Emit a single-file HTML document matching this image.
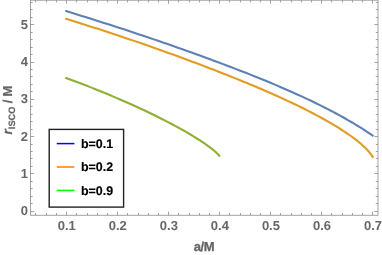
<!DOCTYPE html>
<html><head><meta charset="utf-8"><style>
html,body{margin:0;padding:0;background:#fff;}
svg{display:block;will-change:transform;text-rendering:geometricPrecision;font-family:"Liberation Sans",sans-serif;}
</style></head><body>
<svg width="382" height="255" viewBox="0 0 382 255">
<rect width="382" height="255" fill="#fff"/>
<g fill="none" stroke-width="2.1" stroke-linecap="butt" stroke-linejoin="round">
<polyline stroke="#5e81b5" points="65.30,10.86 70.82,12.55 76.31,14.24 81.75,15.93 87.16,17.62 92.53,19.30 97.87,20.98 103.16,22.66 108.42,24.34 113.63,26.02 118.81,27.70 123.95,29.37 129.05,31.04 134.11,32.71 139.13,34.38 144.11,36.05 149.05,37.72 153.95,39.38 158.80,41.05 163.62,42.70 168.40,44.36 173.13,46.01 177.83,47.66 182.48,49.31 187.09,50.95 191.66,52.59 196.18,54.22 200.66,55.84 205.10,57.46 209.50,59.07 213.85,60.68 218.16,62.28 222.42,63.88 226.64,65.46 230.81,67.05 234.94,68.62 239.02,70.20 243.06,71.76 247.05,73.32 250.99,74.88 254.89,76.43 258.74,77.98 262.54,79.52 266.29,81.06 270.00,82.59 273.65,84.12 277.26,85.64 280.82,87.16 284.32,88.67 287.78,90.18 291.18,91.68 294.53,93.18 297.83,94.67 301.07,96.15 304.27,97.63 307.40,99.10 310.49,100.56 313.51,102.02 316.49,103.46 319.40,104.90 322.26,106.32 325.05,107.73 327.79,109.13 330.47,110.52 333.09,111.90 335.64,113.26 338.14,114.60 340.56,115.93 342.93,117.24 345.22,118.53 347.45,119.79 349.61,121.04 351.70,122.26 353.71,123.46 355.65,124.62 357.52,125.76 359.31,126.86 361.01,127.92 362.63,128.95 364.17,129.94 365.62,130.87 366.97,131.76 368.23,132.59 369.38,133.37 370.42,134.07 371.35,134.70 372.14,135.25 372.79,135.70 373.27,136.03 373.50,136.19"/>
<polyline stroke="#e19c24" points="65.30,18.57 70.82,20.29 76.30,22.00 81.74,23.72 87.15,25.44 92.52,27.15 97.84,28.87 103.14,30.58 108.39,32.30 113.60,34.02 118.78,35.73 123.91,37.45 129.01,39.17 134.06,40.88 139.08,42.60 144.06,44.32 148.99,46.03 153.89,47.75 158.74,49.46 163.56,51.17 168.33,52.89 173.06,54.59 177.76,56.30 182.40,58.01 187.01,59.71 191.58,61.40 196.10,63.10 200.58,64.78 205.01,66.47 209.40,68.15 213.75,69.82 218.06,71.49 222.32,73.16 226.53,74.82 230.70,76.48 234.83,78.13 238.91,79.77 242.94,81.42 246.93,83.06 250.87,84.69 254.77,86.32 258.61,87.95 262.41,89.58 266.16,91.20 269.87,92.82 273.52,94.43 277.12,96.04 280.68,97.65 284.18,99.25 287.63,100.86 291.03,102.46 294.38,104.05 297.68,105.64 300.92,107.23 304.11,108.81 307.25,110.39 310.33,111.97 313.35,113.54 316.32,115.11 319.23,116.67 322.09,118.23 324.89,119.78 327.62,121.33 330.30,122.88 332.91,124.41 335.47,125.95 337.96,127.47 340.38,128.99 342.75,130.51 345.04,132.01 347.27,133.52 349.42,135.01 351.51,136.49 353.52,137.97 355.47,139.44 357.33,140.90 359.11,142.35 360.82,143.79 362.44,145.22 363.98,146.63 365.42,148.02 366.78,149.39 368.03,150.74 369.18,152.06 370.22,153.33 371.15,154.54 371.94,155.66 372.59,156.65 373.07,157.43 373.30,157.84"/>
<polyline stroke="#8fb032" points="65.30,77.68 68.07,78.70 70.82,79.72 73.55,80.75 76.27,81.77 78.96,82.79 81.64,83.81 84.29,84.83 86.93,85.85 89.54,86.87 92.14,87.89 94.72,88.91 97.28,89.93 99.82,90.94 102.33,91.98 104.83,93.01 107.31,94.04 109.77,95.07 112.20,96.10 114.62,97.13 117.02,98.15 119.39,99.18 121.75,100.20 124.08,101.22 126.39,102.24 128.68,103.26 130.95,104.27 133.20,105.29 135.43,106.30 137.63,107.31 139.82,108.31 141.98,109.32 144.11,110.32 146.23,111.32 148.32,112.31 150.40,113.31 152.44,114.30 154.47,115.28 156.47,116.27 158.45,117.25 160.40,118.22 162.33,119.19 164.24,120.16 166.12,121.13 167.98,122.09 169.81,123.05 171.62,124.00 173.41,124.95 175.17,125.89 176.90,126.83 178.61,127.76 180.29,128.69 181.94,129.61 183.57,130.53 185.17,131.44 186.74,132.34 188.29,133.24 189.81,134.14 191.30,135.02 192.76,135.90 194.19,136.78 195.60,137.64 196.97,138.50 198.32,139.35 199.63,140.20 200.91,141.03 202.16,141.86 203.38,142.67 204.56,143.48 205.71,144.28 206.83,145.07 207.92,145.85 208.96,146.62 209.97,147.38 210.95,148.12 211.88,148.85 212.78,149.57 213.64,150.28 214.45,150.97 215.22,151.64 215.95,152.29 216.63,152.93 217.26,153.54 217.83,154.13 218.36,154.68 218.82,155.20 219.22,155.66 219.54,156.06 219.78,156.37 219.90,156.53"/>
</g>
<g stroke="#8c8c8c" stroke-width="0.8" fill="none">
<rect x="30.5" y="0.2" width="347.5" height="215.05"/>
<line x1="35.50" y1="215.25" x2="35.50" y2="213.05"/><line x1="35.50" y1="0.2" x2="35.50" y2="2.40"/><line x1="46.50" y1="215.25" x2="46.50" y2="213.05"/><line x1="46.50" y1="0.2" x2="46.50" y2="2.40"/><line x1="56.50" y1="215.25" x2="56.50" y2="213.05"/><line x1="56.50" y1="0.2" x2="56.50" y2="2.40"/><line x1="66.50" y1="215.25" x2="66.50" y2="211.65"/><line x1="66.50" y1="0.2" x2="66.50" y2="3.80"/><line x1="76.50" y1="215.25" x2="76.50" y2="213.05"/><line x1="76.50" y1="0.2" x2="76.50" y2="2.40"/><line x1="87.50" y1="215.25" x2="87.50" y2="213.05"/><line x1="87.50" y1="0.2" x2="87.50" y2="2.40"/><line x1="97.50" y1="215.25" x2="97.50" y2="213.05"/><line x1="97.50" y1="0.2" x2="97.50" y2="2.40"/><line x1="107.50" y1="215.25" x2="107.50" y2="213.05"/><line x1="107.50" y1="0.2" x2="107.50" y2="2.40"/><line x1="117.50" y1="215.25" x2="117.50" y2="211.65"/><line x1="117.50" y1="0.2" x2="117.50" y2="3.80"/><line x1="127.50" y1="215.25" x2="127.50" y2="213.05"/><line x1="127.50" y1="0.2" x2="127.50" y2="2.40"/><line x1="138.50" y1="215.25" x2="138.50" y2="213.05"/><line x1="138.50" y1="0.2" x2="138.50" y2="2.40"/><line x1="148.50" y1="215.25" x2="148.50" y2="213.05"/><line x1="148.50" y1="0.2" x2="148.50" y2="2.40"/><line x1="158.50" y1="215.25" x2="158.50" y2="213.05"/><line x1="158.50" y1="0.2" x2="158.50" y2="2.40"/><line x1="168.50" y1="215.25" x2="168.50" y2="211.65"/><line x1="168.50" y1="0.2" x2="168.50" y2="3.80"/><line x1="178.50" y1="215.25" x2="178.50" y2="213.05"/><line x1="178.50" y1="0.2" x2="178.50" y2="2.40"/><line x1="189.50" y1="215.25" x2="189.50" y2="213.05"/><line x1="189.50" y1="0.2" x2="189.50" y2="2.40"/><line x1="199.50" y1="215.25" x2="199.50" y2="213.05"/><line x1="199.50" y1="0.2" x2="199.50" y2="2.40"/><line x1="209.50" y1="215.25" x2="209.50" y2="213.05"/><line x1="209.50" y1="0.2" x2="209.50" y2="2.40"/><line x1="219.50" y1="215.25" x2="219.50" y2="211.65"/><line x1="219.50" y1="0.2" x2="219.50" y2="3.80"/><line x1="229.50" y1="215.25" x2="229.50" y2="213.05"/><line x1="229.50" y1="0.2" x2="229.50" y2="2.40"/><line x1="240.50" y1="215.25" x2="240.50" y2="213.05"/><line x1="240.50" y1="0.2" x2="240.50" y2="2.40"/><line x1="250.50" y1="215.25" x2="250.50" y2="213.05"/><line x1="250.50" y1="0.2" x2="250.50" y2="2.40"/><line x1="260.50" y1="215.25" x2="260.50" y2="213.05"/><line x1="260.50" y1="0.2" x2="260.50" y2="2.40"/><line x1="270.50" y1="215.25" x2="270.50" y2="211.65"/><line x1="270.50" y1="0.2" x2="270.50" y2="3.80"/><line x1="280.50" y1="215.25" x2="280.50" y2="213.05"/><line x1="280.50" y1="0.2" x2="280.50" y2="2.40"/><line x1="291.50" y1="215.25" x2="291.50" y2="213.05"/><line x1="291.50" y1="0.2" x2="291.50" y2="2.40"/><line x1="301.50" y1="215.25" x2="301.50" y2="213.05"/><line x1="301.50" y1="0.2" x2="301.50" y2="2.40"/><line x1="311.50" y1="215.25" x2="311.50" y2="213.05"/><line x1="311.50" y1="0.2" x2="311.50" y2="2.40"/><line x1="321.50" y1="215.25" x2="321.50" y2="211.65"/><line x1="321.50" y1="0.2" x2="321.50" y2="3.80"/><line x1="331.50" y1="215.25" x2="331.50" y2="213.05"/><line x1="331.50" y1="0.2" x2="331.50" y2="2.40"/><line x1="342.50" y1="215.25" x2="342.50" y2="213.05"/><line x1="342.50" y1="0.2" x2="342.50" y2="2.40"/><line x1="352.50" y1="215.25" x2="352.50" y2="213.05"/><line x1="352.50" y1="0.2" x2="352.50" y2="2.40"/><line x1="362.50" y1="215.25" x2="362.50" y2="213.05"/><line x1="362.50" y1="0.2" x2="362.50" y2="2.40"/><line x1="372.50" y1="215.25" x2="372.50" y2="211.65"/><line x1="372.50" y1="0.2" x2="372.50" y2="3.80"/><line x1="30.5" y1="211.50" x2="34.10" y2="211.50"/><line x1="378.0" y1="211.50" x2="374.40" y2="211.50"/><line x1="30.5" y1="203.50" x2="32.70" y2="203.50"/><line x1="378.0" y1="203.50" x2="375.80" y2="203.50"/><line x1="30.5" y1="196.50" x2="32.70" y2="196.50"/><line x1="378.0" y1="196.50" x2="375.80" y2="196.50"/><line x1="30.5" y1="188.50" x2="32.70" y2="188.50"/><line x1="378.0" y1="188.50" x2="375.80" y2="188.50"/><line x1="30.5" y1="181.50" x2="32.70" y2="181.50"/><line x1="378.0" y1="181.50" x2="375.80" y2="181.50"/><line x1="30.5" y1="173.50" x2="34.10" y2="173.50"/><line x1="378.0" y1="173.50" x2="374.40" y2="173.50"/><line x1="30.5" y1="166.50" x2="32.70" y2="166.50"/><line x1="378.0" y1="166.50" x2="375.80" y2="166.50"/><line x1="30.5" y1="158.50" x2="32.70" y2="158.50"/><line x1="378.0" y1="158.50" x2="375.80" y2="158.50"/><line x1="30.5" y1="151.50" x2="32.70" y2="151.50"/><line x1="378.0" y1="151.50" x2="375.80" y2="151.50"/><line x1="30.5" y1="144.50" x2="32.70" y2="144.50"/><line x1="378.0" y1="144.50" x2="375.80" y2="144.50"/><line x1="30.5" y1="136.50" x2="34.10" y2="136.50"/><line x1="378.0" y1="136.50" x2="374.40" y2="136.50"/><line x1="30.5" y1="129.50" x2="32.70" y2="129.50"/><line x1="378.0" y1="129.50" x2="375.80" y2="129.50"/><line x1="30.5" y1="121.50" x2="32.70" y2="121.50"/><line x1="378.0" y1="121.50" x2="375.80" y2="121.50"/><line x1="30.5" y1="114.50" x2="32.70" y2="114.50"/><line x1="378.0" y1="114.50" x2="375.80" y2="114.50"/><line x1="30.5" y1="106.50" x2="32.70" y2="106.50"/><line x1="378.0" y1="106.50" x2="375.80" y2="106.50"/><line x1="30.5" y1="99.50" x2="34.10" y2="99.50"/><line x1="378.0" y1="99.50" x2="374.40" y2="99.50"/><line x1="30.5" y1="91.50" x2="32.70" y2="91.50"/><line x1="378.0" y1="91.50" x2="375.80" y2="91.50"/><line x1="30.5" y1="84.50" x2="32.70" y2="84.50"/><line x1="378.0" y1="84.50" x2="375.80" y2="84.50"/><line x1="30.5" y1="76.50" x2="32.70" y2="76.50"/><line x1="378.0" y1="76.50" x2="375.80" y2="76.50"/><line x1="30.5" y1="69.50" x2="32.70" y2="69.50"/><line x1="378.0" y1="69.50" x2="375.80" y2="69.50"/><line x1="30.5" y1="62.50" x2="34.10" y2="62.50"/><line x1="378.0" y1="62.50" x2="374.40" y2="62.50"/><line x1="30.5" y1="54.50" x2="32.70" y2="54.50"/><line x1="378.0" y1="54.50" x2="375.80" y2="54.50"/><line x1="30.5" y1="47.50" x2="32.70" y2="47.50"/><line x1="378.0" y1="47.50" x2="375.80" y2="47.50"/><line x1="30.5" y1="39.50" x2="32.70" y2="39.50"/><line x1="378.0" y1="39.50" x2="375.80" y2="39.50"/><line x1="30.5" y1="32.50" x2="32.70" y2="32.50"/><line x1="378.0" y1="32.50" x2="375.80" y2="32.50"/><line x1="30.5" y1="24.50" x2="34.10" y2="24.50"/><line x1="378.0" y1="24.50" x2="374.40" y2="24.50"/><line x1="30.5" y1="17.50" x2="32.70" y2="17.50"/><line x1="378.0" y1="17.50" x2="375.80" y2="17.50"/><line x1="30.5" y1="9.50" x2="32.70" y2="9.50"/><line x1="378.0" y1="9.50" x2="375.80" y2="9.50"/><line x1="30.5" y1="2.50" x2="32.70" y2="2.50"/><line x1="378.0" y1="2.50" x2="375.80" y2="2.50"/>
</g>
<g fill="#666" font-size="13px" font-weight="bold">
<text x="66.80" y="230.0" text-anchor="middle">0.1</text><text x="117.83" y="230.0" text-anchor="middle">0.2</text><text x="168.86" y="230.0" text-anchor="middle">0.3</text><text x="219.89" y="230.0" text-anchor="middle">0.4</text><text x="270.92" y="230.0" text-anchor="middle">0.5</text><text x="321.95" y="230.0" text-anchor="middle">0.6</text><text x="372.98" y="230.0" text-anchor="middle">0.7</text>
<text x="28.1" y="215.2" text-anchor="end">0</text><text x="28.1" y="178.0" text-anchor="end">1</text><text x="28.1" y="140.7" text-anchor="end">2</text><text x="28.1" y="103.4" text-anchor="end">3</text><text x="28.1" y="66.1" text-anchor="end">4</text><text x="28.1" y="29.0" text-anchor="end">5</text>
<text x="203.9" y="250.6" text-anchor="middle" letter-spacing="-0.5" stroke="#666" stroke-width="0.3">a/M</text>
<text transform="translate(11.8,134.4) rotate(-90)" stroke="#666" stroke-width="0.2"><tspan font-style="italic" font-weight="bold" font-size="13.5px">r</tspan><tspan font-size="9.2px" font-weight="bold" dy="2.7">ISCO</tspan><tspan dy="-2.7" dx="-0.2"> /</tspan><tspan dx="-0.4"> M</tspan></text>
</g>
<rect x="49.2" y="129.4" width="74.4" height="77.7" fill="#fff" stroke="#222" stroke-width="1.4"/>
<g stroke-width="1.5">
<line x1="56.8" y1="143.6" x2="74.4" y2="143.6" stroke="#0000ff"/>
<line x1="56.8" y1="167.0" x2="74.4" y2="167.0" stroke="#ff8000"/>
<line x1="56.8" y1="190.4" x2="74.4" y2="190.4" stroke="#00ff00"/>
</g>
<g fill="#000" stroke="#000" stroke-width="0.15" font-size="12.45px" font-weight="bold">
<text x="81" y="147.8">b=0.1</text>
<text x="81" y="171.2">b=0.2</text>
<text x="81" y="194.6">b=0.9</text>
</g>
</svg>
</body></html>
